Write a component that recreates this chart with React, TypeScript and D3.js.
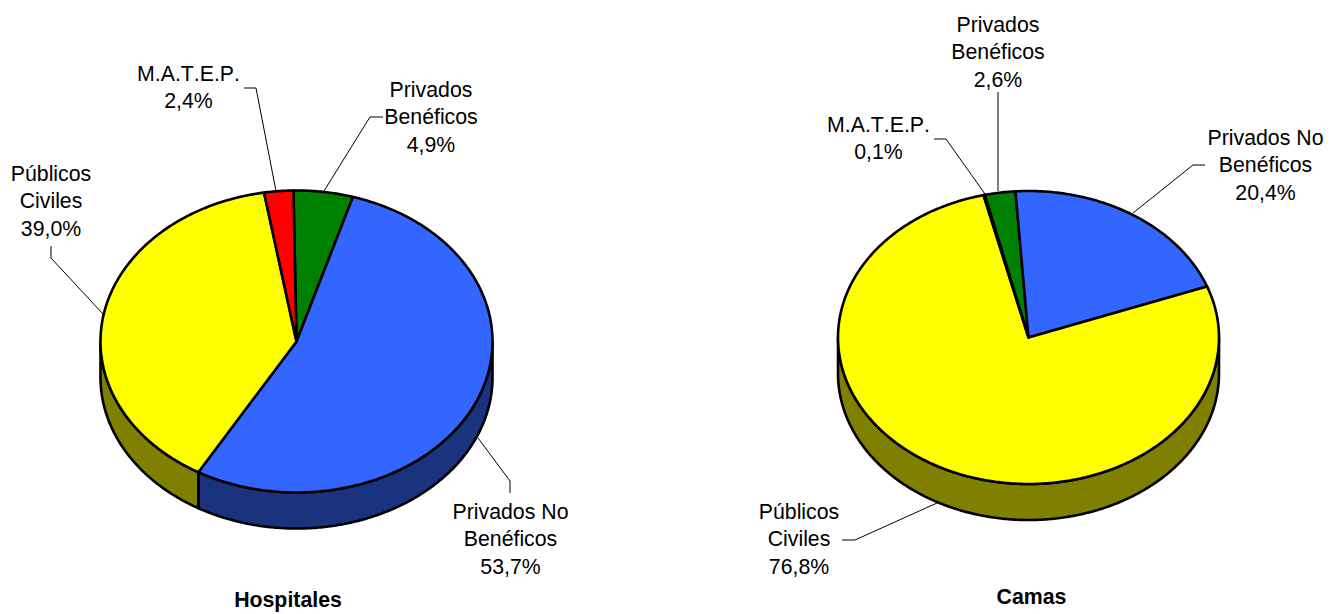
import React from "react";
import * as d3 from "d3";

// Data
const categories = ["Privados Benéficos", "Privados No Benéficos", "Públicos Civiles", "M.A.T.E.P."];
const hospitalesValues = [4.9, 53.7, 39.0, 2.4];
const camasValues = [2.6, 20.4, 76.8, 0.1];
const titles = ["Hospitales", "Camas"];

const topColors = ["#008000", "#3366ff", "#ffff00", "#ff0000"];
const sideColors = ["#004000", "#1a337f", "#808000", "#800000"];

type Pt = [number, number];
type Lab = { lines: string[]; x: number; y: number; leader: Pt[] };

const FS = 21.3;
const LH = 27.4;

const leftLayout = { cx: 296.5, cy: 341.5, rx: 196, ry: 151, depth: 36, start: -0.9 };
const rightLayout = { cx: 1028.5, cy: 337.5, rx: 190.5, ry: 146.5, depth: 36, start: -13.3 };

const leftLabels: Lab[] = [
  { lines: ["Privados", "Benéficos", "4,9%"], x: 431, y: 89, leader: [[383, 117], [370, 117], [324, 191]] },
  { lines: ["Privados No", "Benéficos", "53,7%"], x: 510.5, y: 511, leader: [[478, 438], [510, 481], [510, 493]] },
  { lines: ["Públicos", "Civiles", "39,0%"], x: 51, y: 173, leader: [[51, 246], [51, 258], [103, 314]] },
  { lines: ["M.A.T.E.P.", "2,4%"], x: 188.5, y: 73, leader: [[244, 88], [256, 88], [276, 191]] },
];
const rightLabels: Lab[] = [
  { lines: ["Privados", "Benéficos", "2,6%"], x: 998, y: 24, leader: [[998, 92], [998, 191]] },
  { lines: ["Privados No", "Benéficos", "20,4%"], x: 1265.5, y: 137, leader: [[1205, 165], [1193, 165], [1133, 213]] },
  { lines: ["Públicos", "Civiles", "76,8%"], x: 799, y: 511, leader: [[842, 540], [855, 540], [937, 503]] },
  { lines: ["M.A.T.E.P.", "0,1%"], x: 878.5, y: 124, leader: [[934, 139], [946, 139], [985, 194]] },
];

const toRad = (d: number) => (d * Math.PI) / 180;

function Pie3D({ values, layout, labels }: { values: number[]; layout: typeof leftLayout; labels: Lab[] }) {
  const { cx, cy, rx, ry, depth, start } = layout;
  const startRad = toRad(start);
  const arcs = d3
    .pie<number>()
    .sort(null)
    .startAngle(startRad)
    .endAngle(startRad + 2 * Math.PI)(values);

  const xs = d3.scaleLinear().domain([-1, 1]).range([cx - rx, cx + rx]);
  const ys = d3.scaleLinear().domain([-1, 1]).range([cy - ry, cy + ry]);
  const pt = (a: number, dy = 0): Pt => [xs(Math.sin(a)), ys(-Math.cos(a)) + dy];
  const samples = (a0: number, a1: number, dy = 0): Pt[] => {
    const n = Math.max(2, Math.ceil(Math.abs(a1 - a0) / 0.01));
    return d3.range(n + 1).map((i) => pt(a0 + ((a1 - a0) * i) / n, dy));
  };
  const line = d3.line<Pt>();

  const front0 = Math.PI / 2;
  const front1 = (3 * Math.PI) / 2;

  const walls: { d: string; fill: string }[] = [];
  arcs.forEach((a) => {
    for (const shift of [0, 2 * Math.PI]) {
      const s = Math.max(a.startAngle + shift, front0);
      const e = Math.min(a.endAngle + shift, front1);
      if (e > s) {
        const d = line([...samples(s, e), ...samples(e, s, depth)])! + "Z";
        walls.push({ d, fill: sideColors[a.index] });
      }
    }
  });

  return (
    <g>
      {labels.map((l, i) => (
        <path key={"l" + i} d={line(l.leader)!} fill="none" stroke="#000" strokeWidth={1} />
      ))}
      {walls.map((w, i) => (
        <path key={"w" + i} d={w.d} fill={w.fill} stroke="#000" strokeWidth={2.6} strokeLinejoin="round" />
      ))}
      {arcs.map((a, i) => (
        <path
          key={"s" + i}
          d={line([[xs(0), ys(0)], ...samples(a.startAngle, a.endAngle)])! + "Z"}
          fill={topColors[a.index]}
          stroke="#000"
          strokeWidth={2.6}
          strokeLinejoin="round"
        />
      ))}
      {labels.map((l, i) => (
        <text key={"t" + i} textAnchor="middle" fontSize={FS} fill="#000" style={{ fontKerning: "none" }}>
          {l.lines.map((s, j) => (
            <tspan key={j} x={l.x} y={l.y + j * LH + 7.7}>
              {s}
            </tspan>
          ))}
        </text>
      ))}
    </g>
  );
}

export default function App() {
  return (
    <svg
      width={1330}
      height={614}
      viewBox="0 0 1330 614"
      style={{ position: "absolute", left: 0, top: 0, background: "#fff" }}
      fontFamily="'Liberation Sans', Arial, sans-serif"
    >
      <title>{categories.join(", ")}</title>
      <Pie3D values={hospitalesValues} layout={leftLayout} labels={leftLabels} />
      <Pie3D values={camasValues} layout={rightLayout} labels={rightLabels} />
      <text x={288} y={606.5} textAnchor="middle" fontWeight="bold" fontSize={21.3}>
        {titles[0]}
      </text>
      <text x={1031.5} y={603.5} textAnchor="middle" fontWeight="bold" fontSize={21.3}>
        {titles[1]}
      </text>
    </svg>
  );
}
